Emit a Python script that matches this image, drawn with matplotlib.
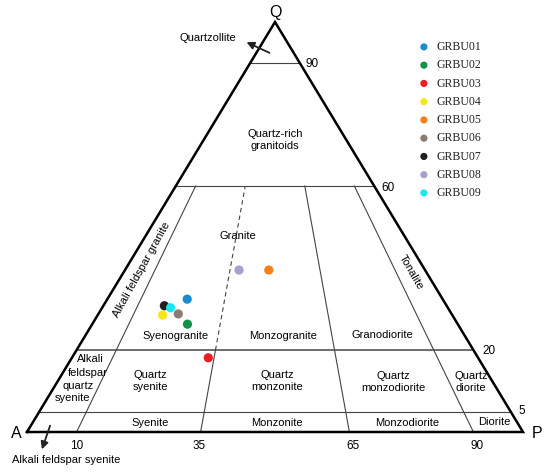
import matplotlib
matplotlib.use('Agg')
import matplotlib.pyplot as plt
import numpy as np

# ---------------- data (Q, A, P modal percentages) ----------------
samples = ['GRBU01', 'GRBU02', 'GRBU03', 'GRBU04', 'GRBU05',
           'GRBU06', 'GRBU07', 'GRBU08', 'GRBU09']
Q = [32.4, 26.3, 18.1, 28.5, 39.5, 28.8, 30.8, 39.5, 30.3]
A = [51.5, 54.5, 54.4, 58.4, 31.5, 55.1, 56.9, 37.5, 55.9]
P = [16.1, 19.2, 27.5, 13.1, 29.0, 16.1, 12.3, 23.0, 13.8]
colors = ['#1a8bd3', '#13934a', '#ee1c25', '#f7e51b', '#f7801a',
          '#8c7b70', '#231f20', '#a79fcd', '#17e8f2']

q_levels = [90, 60, 20, 5]          # horizontal Q boundaries
ratio_ticks = [10, 35, 65, 90]      # P/(A+P) boundaries

SANS = 'Liberation Sans'
SERIF = 'Liberation Serif'

# ---------------- geometry helpers ----------------
def tern(q, a, p):
    s = q + a + p
    qq, pp = q / s * 100.0, p / s * 100.0
    return pp + qq / 2.0, qq

def ratio_pt(r, q):
    p = (100.0 - q) * r / 100.0
    return p + q / 2.0, q

def hline(q):
    return [(q / 2.0, 100 - q / 2.0), (q, q)]

def px(x, y):
    return ((x - 27) / 4.96, (432 - y) / 4.1)

fig = plt.figure(figsize=(5.5, 4.73), dpi=100)
ax = fig.add_axes([0, 0, 1, 1])
ax.set_xlim(-27 / 4.96, (550 - 27) / 4.96)
ax.set_ylim(-(473 - 432) / 4.1, 432 / 4.1)
ax.axis('off')

inner = dict(color='#444444', lw=0.8, zorder=2)

# horizontal Q lines
for q in q_levels:
    xs, ys = hline(q)
    if q == 20:
        ax.plot(xs, ys, color='#6e6e6e', lw=1.4, zorder=2)
    else:
        ax.plot(xs, ys, **inner)

# ratio lines
for r in ratio_ticks:
    top = 60 if r != 35 else 20
    x0, y0 = ratio_pt(r, 0)
    x1, y1 = ratio_pt(r, top)
    ax.plot([x0, x1], [y0, y1], **inner)
# dashed syenogranite / monzogranite line
x0, y0 = ratio_pt(35, 20)
x1, y1 = ratio_pt(35, 60)
ax.plot([x0, x1], [y0, y1], color='#444444', lw=0.8, ls=(0, (4, 3)), zorder=2)

# triangle outline
ax.plot([0, 100, 50, 0], [0, 0, 100, 0], color='black', lw=1.8,
        solid_joinstyle='miter', zorder=3)

# ---------------- samples ----------------
for name, q, a, p, c in zip(samples, Q, A, P, colors):
    x, y = tern(q, a, p)
    ax.scatter([x], [y], s=44, color=c, edgecolors='none', zorder=5, label=name)

leg = ax.legend(loc='upper left', bbox_to_anchor=(418 / 550, 1 - 41 / 473),
                bbox_transform=fig.transFigure, frameon=False,
                handlelength=1.0, handletextpad=0.6, labelspacing=0.53,
                borderpad=0, borderaxespad=0, markerscale=0.78,
                prop={'family': SERIF, 'size': 8.5})
for t in leg.get_texts():
    t.set_color('#222222')

# ---------------- vertex and tick labels ----------------
ax.text(*px(275, 12), 'Q', fontsize=11.5, family=SANS, ha='center', va='center')
ax.text(*px(16, 433), 'A', fontsize=11.5, family=SANS, ha='center', va='center')
ax.text(*px(537, 433), 'P', fontsize=11.5, family=SANS, ha='center', va='center')

tk = dict(fontsize=8.5, family=SANS, va='center')
ax.text(*px(305, 64), '90', ha='left', **tk)
ax.text(*px(381, 188), '60', ha='left', **tk)
ax.text(*px(482, 351), '20', ha='left', **tk)
ax.text(*px(518, 411), '5', ha='left', **tk)
for r, xpx in zip(ratio_ticks, [77, 199, 353, 477]):
    ax.text(*px(xpx, 446), str(r), ha='center', **tk)

# arrows with outlying names
ax.annotate('', xy=px(244, 41), xytext=px(272, 54),
            arrowprops=dict(arrowstyle='-|>', color='#222222', lw=1.3,
                            mutation_scale=11))
ax.text(*px(208, 38), 'Quartzollite', fontsize=8, family=SANS,
        ha='center', va='center')
ax.annotate('', xy=px(41, 452), xytext=px(51, 423),
            arrowprops=dict(arrowstyle='-|>', color='#222222', lw=1.3,
                            mutation_scale=11))
ax.text(*px(66, 460), 'Alkali feldspar syenite', fontsize=8, family=SANS,
        ha='center', va='center')

# ---------------- field names ----------------
fl = dict(fontsize=8, family=SANS, ha='center', va='center', linespacing=1.2)
ax.text(*px(275, 140), 'Quartz-rich\ngranitoids', **fl)
ax.text(*px(238, 236), 'Granite', **fl)
ax.text(*px(176, 336), 'Syenogranite', **fl)
ax.text(*px(283, 336), 'Monzogranite', **fl)
ax.text(*px(382, 335), 'Granodiorite', **fl)
ax.text(*px(150, 381), 'Quartz\nsyenite', **fl)
ax.text(*px(277, 381), 'Quartz\nmonzonite', **fl)
ax.text(*px(393, 382), 'Quartz\nmonzodiorite', **fl)
ax.text(*px(471, 382), 'Quartz\ndiorite', **fl)
ax.text(*px(150, 423), 'Syenite', **fl)
ax.text(*px(277, 423), 'Monzonite', **fl)
ax.text(*px(407, 423), 'Monzodiorite', **fl)
ax.text(*px(494, 422), 'Diorite', **fl)
for txt, (xx, yy) in zip(['Alkali', 'feldspar', 'quartz', 'syenite'],
                         [(90, 359), (88, 373), (78, 386), (72, 398)]):
    ax.text(*px(xx, yy), txt, **fl)
ax.text(*px(142, 270), 'Alkali feldspar granite', rotation=61,
        rotation_mode='anchor', **fl)
ax.text(*px(411, 272), 'Tonalite', rotation=-60, rotation_mode='anchor', **fl)

fig.savefig('out.png', dpi=100)
